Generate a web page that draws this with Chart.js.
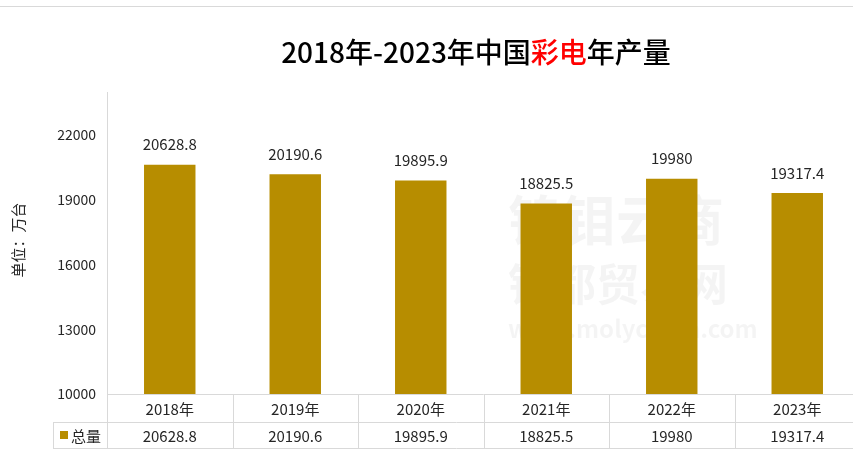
<!DOCTYPE html>
<html>
<head>
<meta charset="utf-8">
<script src="https://cdn.jsdelivr.net/npm/chart.js@4/dist/chart.umd.min.js"></script>
<style>
  html, body { margin: 0; padding: 0; background: #fff; overflow: hidden; }
  #wrap { width: 870px; height: 459px; }
</style>
</head>
<body>
<div id="wrap"><canvas id="c" width="870" height="459"></canvas></div>
<script>
const categories = ['2018年', '2019年', '2020年', '2021年', '2022年', '2023年'];
const totals = [20628.8, 20190.6, 19895.9, 18825.5, 19980, 19317.4];
const yTickValues = [10000, 13000, 16000, 19000, 22000];
const seriesName = '总量';
const titleParts = [['2018年-2023年中国', '#000'], ['彩电', '#FF0000'], ['年产量', '#000']];
const yAxisTitle = '单位：万台';
const watermarkLines = ['钨钼云商', '钼都贸易网', 'www.molychina.com'];

const BAR = '#B78D00';
const LINE = '#D9D9D9';
const TXT = '#262626';
const FONT = '"Noto Sans CJK SC", "Noto Sans", sans-serif';

const decor = {
  id: 'decor',
  beforeDatasetsDraw(chart) {
    const ctx = chart.ctx;
    ctx.save();
    ctx.fillStyle = 'rgba(0,0,0,0.045)';
    ctx.textBaseline = 'middle';
    ctx.textAlign = 'left';
    ctx.font = '700 54px ' + FONT;
    ctx.fillText(watermarkLines[0], 508, 220);
    ctx.font = '700 44px ' + FONT;
    ctx.fillText(watermarkLines[1], 508, 284);
    ctx.font = '700 24px ' + FONT;
    ctx.fillText(watermarkLines[2], 508, 329);
    ctx.restore();
  },
  afterDatasetsDraw(chart) {
    const ctx = chart.ctx;
    const meta = chart.getDatasetMeta(0);
    ctx.save();
    ctx.fillStyle = TXT;
    ctx.font = '15px ' + FONT;
    ctx.textAlign = 'center';
    ctx.textBaseline = 'middle';
    meta.data.forEach((bar, i) => {
      ctx.fillText(String(totals[i]), bar.x, bar.y - 20);
    });
    ctx.restore();
  },
  afterDraw(chart) {
    const ctx = chart.ctx;
    const area = chart.chartArea;
    const xs = chart.scales.x;
    const n = categories.length;
    const colW = (area.right - area.left) / n;
    const row1 = area.bottom;
    const row2 = row1 + 28;
    const row3 = row2 + 26;
    const legendLeft = 53;
    ctx.save();
    ctx.fillStyle = LINE;
    ctx.fillRect(0, 6, chart.width, 1);
    ctx.strokeStyle = LINE;
    ctx.lineWidth = 1;
    ctx.beginPath();
    ctx.moveTo(area.left, row1 + 0.5); ctx.lineTo(area.right, row1 + 0.5);
    ctx.moveTo(legendLeft, row2 + 0.5); ctx.lineTo(area.right, row2 + 0.5);
    ctx.moveTo(legendLeft, row3 + 0.5); ctx.lineTo(area.right, row3 + 0.5);
    ctx.moveTo(legendLeft + 0.5, row2); ctx.lineTo(legendLeft + 0.5, row3);
    for (let i = 0; i <= n; i++) {
      const bx = Math.round(area.left + i * colW) + 0.5;
      ctx.moveTo(bx, row1); ctx.lineTo(bx, row3);
    }
    ctx.stroke();
    ctx.fillStyle = TXT;
    ctx.font = '15px ' + FONT;
    ctx.textAlign = 'center';
    ctx.textBaseline = 'middle';
    categories.forEach((c, i) => {
      const cx = xs.getPixelForValue(i);
      ctx.fillText(c, cx, (row1 + row2) / 2 + 1);
      ctx.fillText(String(totals[i]), cx, (row2 + row3) / 2 + 1);
    });
    ctx.fillStyle = BAR;
    ctx.fillRect(60, 431, 8, 8);
    ctx.fillStyle = TXT;
    ctx.textAlign = 'left';
    ctx.fillText(seriesName, 71, (row2 + row3) / 2 + 1);
    ctx.save();
    ctx.translate(18, 240);
    ctx.rotate(-Math.PI / 2);
    ctx.textAlign = 'center';
    ctx.font = '15px ' + FONT;
    ctx.fillText(yAxisTitle, 0, 0);
    ctx.restore();
    ctx.font = '500 28px ' + FONT;
    ctx.textBaseline = 'middle';
    const widths = titleParts.map(p => ctx.measureText(p[0]).width);
    const total = widths.reduce((a, b) => a + b, 0);
    let tx = 476 - total / 2;
    titleParts.forEach((p, i) => {
      ctx.fillStyle = p[1];
      ctx.textAlign = 'left';
      ctx.fillText(p[0], tx, 52);
      tx += widths[i];
    });
    ctx.restore();
  }
};

new Chart(document.getElementById('c'), {
  type: 'bar',
  data: {
    labels: categories,
    datasets: [{
      label: seriesName,
      data: totals,
      backgroundColor: BAR,
      borderWidth: 0,
      barPercentage: 0.41,
      categoryPercentage: 1.0
    }]
  },
  options: {
    responsive: false,
    animation: false,
    devicePixelRatio: 1,
    layout: { padding: { top: 92, right: 10, bottom: 65, left: 0 } },
    plugins: { legend: { display: false }, title: { display: false }, tooltip: { enabled: false } },
    scales: {
      x: { display: false, offset: true, grid: { display: false } },
      y: {
        min: 10000,
        max: 24000,
        afterBuildTicks(scale) { scale.ticks = yTickValues.map(v => ({ value: v })); },
        afterFit(scale) { scale.width = 107; },
        grid: { display: false, drawTicks: false },
        border: { display: true, color: LINE, width: 1 },
        ticks: { padding: 11, color: TXT, font: { size: 14, family: FONT }, callback: (v) => String(v) }
      }
    }
  },
  plugins: [decor]
});
</script>
</body>
</html>
